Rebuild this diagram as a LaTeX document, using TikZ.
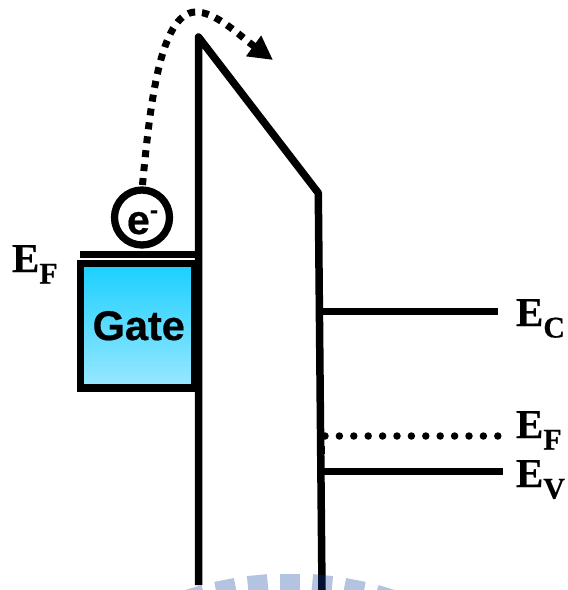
\documentclass[tikz,border=0pt]{standalone}
\usepackage{fontspec}
\setmainfont{Liberation Serif}[BoldFeatures={FakeBold=0.5}]
\newfontfamily\armfont{Liberation Sans}[BoldFeatures={FakeBold=0.5}]
\usetikzlibrary{arrows.meta}
\definecolor{gatetop}{HTML}{1ACFFF}
\definecolor{gatebot}{HTML}{9BE8FF}
\definecolor{seal}{rgb}{0.01,0.22,0.60}
\newcommand{\bandlabel}[2]{{\fontsize{41}{41}\selectfont\bfseries #1\raisebox{-11.5pt}{\fontsize{30}{30}\selectfont #2}}}
\tikzset{
  band/.style={line width=7.5pt,line join=round},
  level/.style={line width=7pt},
  dotlevel/.style={line width=7.5pt,line cap=round,dash pattern=on 0pt off 14.4pt},
  lab/.style={anchor=base west,inner sep=0pt,outer sep=0pt},
  gatebox/.style={draw,line width=7.5pt,top color=gatetop,bottom color=gatebot,inner sep=0pt,outer sep=0pt,
    minimum width=114.5pt,minimum height=124.5pt,font=\armfont\bfseries\fontsize{41.5}{41.5}\selectfont},
  ball/.style={circle,draw,line width=7.3pt,fill=white,minimum size=55pt,inner sep=0pt,outer sep=0pt},
  hop/.style={line width=7pt,dash pattern=on 7pt off 7pt,-{Triangle[length=24pt,width=24pt]},shorten <=5pt},
  wedge/.style={fill=seal,fill opacity=0.3}
}
\begin{document}
\begin{tikzpicture}[x=1pt,y=-1pt]
\useasboundingbox (0,0) rectangle (568,590);
\node[gatebox] (gate) at (137.75,325.75) {\raisebox{-1pt}{\hspace{2pt}Gate}};
\coordinate (apex) at (198.5,37);
\coordinate (knee) at (318.3,193);
\coordinate (oxbottom) at (198.5,585);
\coordinate (sibottom) at (322,590);
\draw[band] (oxbottom) -- (apex) -- (knee) -- (sibottom);
\coordinate (efl) at (80,254.5);
\coordinate (efr) at (198,254.5);
\draw[level,line width=7.5pt] (efl) -- (efr);
\node[ball] (electron) at (142,217.5) {};
\node[lab] at (127,234) {\armfont\bfseries\fontsize{41}{41}\selectfont e};
\node[lab] at (150,218) {\armfont\bfseries\fontsize{24}{24}\selectfont -};
\coordinate (land) at (273,60);
\draw[hop] (electron.north) .. controls (150,105) and (160,14) .. (195,12) .. controls (215,11) and (240,36) .. (land);
\coordinate (ecl) at (320,311);
\coordinate (ecr) at (498,311);
\draw[level] (ecl) -- (ecr);
\coordinate (fl) at (325,436);
\coordinate (fr) at (498,436);
\draw[dotlevel] (fl) -- (fr);
\coordinate (vl) at (322,471.7);
\coordinate (vr) at (502.7,471.7);
\draw[level] (vl) -- (vr);
\coordinate (bumpa) at (323.5,446);
\coordinate (bumpb) at (323.5,454);
\draw[line width=3pt] (bumpa) -- (bumpb);
\node[lab] at (12,272) {\bandlabel{E}{F}};
\node[lab] at (516,326) {\bandlabel{E}{C}};
\node[lab] at (516,438) {\bandlabel{E}{F}};
\node[lab] at (516,487) {\bandlabel{E}{V}};
% watermark seal
\foreach \a in {-16.8,-11.2,-5.6,0,5.6,11.2,16.8}{
  \fill[wedge,rotate around={\a:(290,913)}] (280,573.5) -- (300,573.5) -- (300,600) -- (280,600) -- cycle;
}
\end{tikzpicture}
\end{document}
